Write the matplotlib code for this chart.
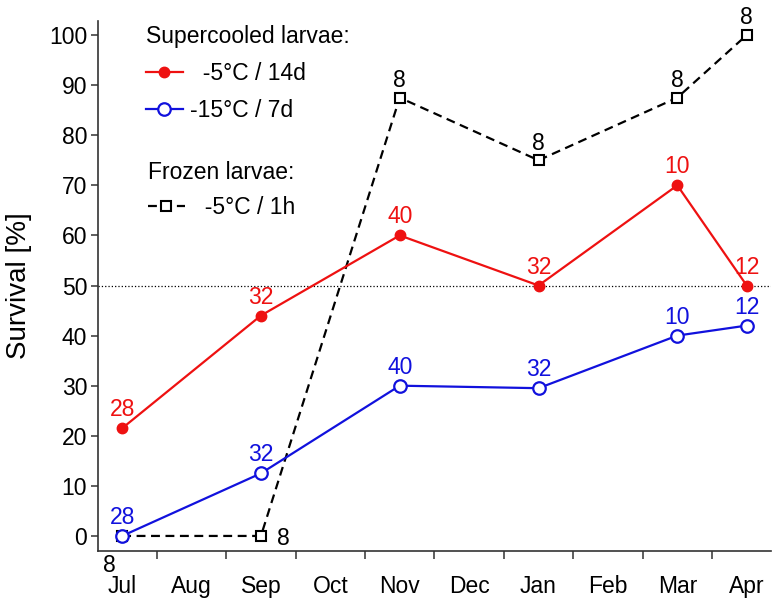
import numpy as np
import matplotlib.pyplot as plt
from matplotlib.ticker import FixedLocator, NullFormatter, FixedFormatter

plt.rcParams['font.family'] = ['Liberation Sans', 'DejaVu Sans']

# Months on the axis, sampling done mid-month
months = ['Jul', 'Aug', 'Sep', 'Oct', 'Nov', 'Dec', 'Jan', 'Feb', 'Mar', 'Apr']
sample_months = ['Jul', 'Sep', 'Nov', 'Jan', 'Mar', 'Apr']

surv_5c_14d = [21.5, 44, 60, 50, 70, 50]      # supercooled, -5C / 14d
surv_15c_7d = [0, 12.5, 30, 29.5, 40, 42]      # supercooled, -15C / 7d
surv_frozen = [0, 0, 87.5, 75, 87.5, 100]      # frozen, -5C / 1h

n_5c_14d = [28, 32, 40, 32, 10, 12]
n_15c_7d = [28, 32, 40, 32, 10, 12]
n_frozen = [8, 8, 8, 8, 8, 8]

x = np.array([months.index(m) for m in sample_months]) + 0.5

red = '#ee1111'
blue = '#1111dd'

fig = plt.figure(figsize=(7.78, 6.06), dpi=100)
ax = fig.add_axes([0.1264, 0.0908, 0.8646, 0.8745])

ax.axhline(50, color='black', ls=':', lw=0.9, zorder=1)

l_red, = ax.plot(x, surv_5c_14d, color=red, lw=1.6, marker='o', ms=7.5,
                 mfc=red, mec=red, label='  -5°C / 14d', zorder=3)
l_blue, = ax.plot(x, surv_15c_7d, color=blue, lw=1.6, marker='o', ms=9,
                  mfc='white', mec=blue, mew=1.6, label='-15°C / 7d', zorder=3)
l_blk, = ax.plot(x, surv_frozen, color='black', lw=1.6, ls=(0, (4, 2.5)),
                 marker='s', ms=6.5, mfc='white', mec='black', mew=1.5,
                 label='  -5°C / 1h', zorder=2)

fs = 16.5
for xi, yi, n in zip(x, surv_5c_14d, n_5c_14d):
    ax.annotate(str(n), (xi, yi), xytext=(0, 5), textcoords='offset points',
                ha='center', va='bottom', color=red, fontsize=fs)
for xi, yi, n in zip(x, surv_15c_7d, n_15c_7d):
    ax.annotate(str(n), (xi, yi), xytext=(0, 5), textcoords='offset points',
                ha='center', va='bottom', color=blue, fontsize=fs)
blk_off = [(-9, -13, 'center', 'top'), (16, -2, 'center', 'center'),
           (0, 4, 'center', 'bottom'), (0, 4, 'center', 'bottom'),
           (0, 4, 'center', 'bottom'), (0, 4, 'center', 'bottom')]
for xi, yi, n, (dx, dy, ha, va) in zip(x, surv_frozen, n_frozen, blk_off):
    ax.annotate(str(n), (xi, yi), xytext=(dx, dy), textcoords='offset points',
                ha=ha, va=va, color='black', fontsize=fs)

ax.set_xlim(0.157, 9.85)
ax.set_ylim(-3, 102.8)
ax.xaxis.set_major_locator(FixedLocator(range(1, 10)))
ax.xaxis.set_major_formatter(NullFormatter())
ax.xaxis.set_minor_locator(FixedLocator(np.arange(len(months)) + 0.5))
ax.xaxis.set_minor_formatter(FixedFormatter(months))
ax.tick_params(axis='x', which='minor', length=0, pad=17, labelsize=fs)
ax.tick_params(axis='x', which='major', length=6, width=1.1, direction='out', color='#333333')
ax.set_yticks(range(0, 101, 10))
ax.tick_params(axis='y', length=5, width=1.1, labelsize=fs, color='#333333', pad=3)

for s in ['top', 'right']:
    ax.spines[s].set_visible(False)
for s in ['left', 'bottom']:
    ax.spines[s].set_color('#333333')
    ax.spines[s].set_linewidth(1.2)

ax.set_ylabel('Survival [%]', fontsize=20, labelpad=12)

leg1 = ax.legend(handles=[l_red, l_blue], title='Supercooled larvae:', loc='upper left',
                 bbox_to_anchor=(0.054, 1.014), frameon=False, fontsize=fs, title_fontsize=fs,
                 handlelength=1.6, handletextpad=0.3, borderpad=0, labelspacing=0.6,
                 alignment='left')
ax.add_artist(leg1)
leg2 = ax.legend(handles=[l_blk], title='Frozen larvae:', loc='upper left',
                 bbox_to_anchor=(0.057, 0.757), frameon=False, fontsize=fs, title_fontsize=fs,
                 handlelength=1.6, handletextpad=0.3, borderpad=0, alignment='left')

fig.savefig('out.png', dpi=100)
